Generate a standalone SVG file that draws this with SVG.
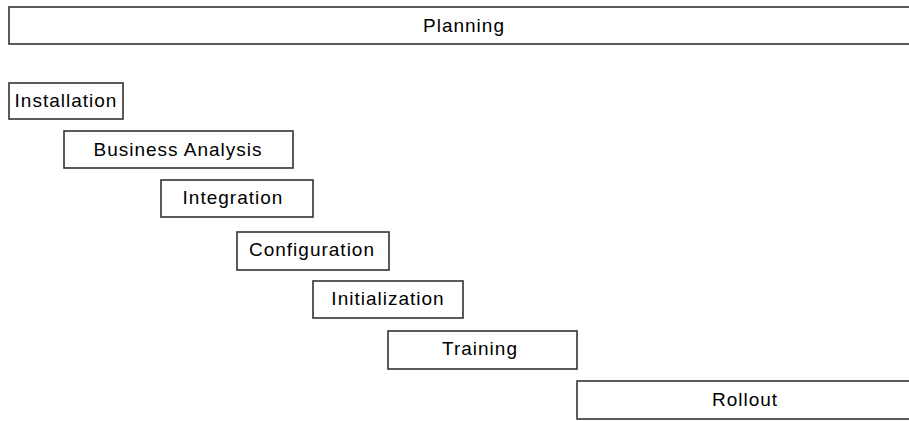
<svg xmlns="http://www.w3.org/2000/svg" width="909" height="421" viewBox="0 0 909 421">
<style>
rect{fill:#fff;stroke:#333;stroke-width:1.6}
text{font-family:"Liberation Sans",Arial,sans-serif;font-size:19px;letter-spacing:1px;fill:#000;text-anchor:middle}
</style>
<rect x="0" y="0" width="909" height="421" style="fill:#fff;stroke:none"/>
<g id="connectors"></g>
<g id="planning"><rect x="9" y="7" width="910" height="37"/><text x="464" y="32">Planning</text></g>
<g id="installation"><rect x="9" y="83" width="114" height="36"/><text x="66" y="107">Installation</text></g>
<g id="business-analysis"><rect x="64" y="131" width="229" height="37"/><text x="178" y="156">Business Analysis</text></g>
<g id="integration"><rect x="161" y="180" width="152" height="37"/><text x="233" y="204">Integration</text></g>
<g id="configuration"><rect x="237" y="232" width="152" height="38"/><text x="312" y="256">Configuration</text></g>
<g id="initialization"><rect x="313" y="281" width="150" height="37"/><text x="388" y="305">Initialization</text></g>
<g id="training"><rect x="388" y="331" width="189" height="38"/><text x="480" y="355">Training</text></g>
<g id="rollout"><rect x="577" y="381" width="340" height="38"/><text x="745" y="406">Rollout</text></g>
</svg>
